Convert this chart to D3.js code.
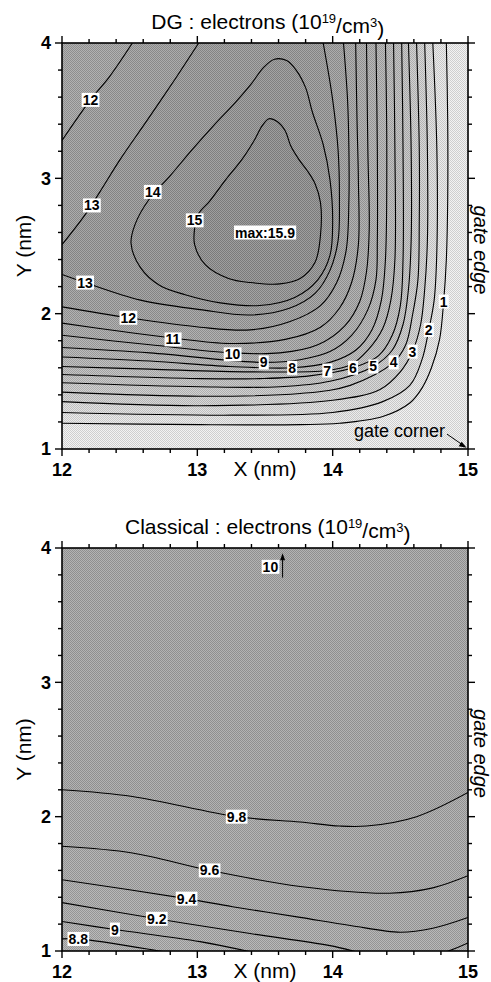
<!DOCTYPE html>
<html lang="en">
<head>
<meta charset="utf-8">
<title>DG and classical electron density</title>
<script src="https://cdn.jsdelivr.net/npm/d3@7"></script>
<style>
  body { margin: 0; background: #fff; }
  text { font-family: "Liberation Sans", Arial, sans-serif; }
</style>
</head>
<body>
<script>
// tick labels
var xTicks = [12, 13, 14, 15];
var yTicks = [1, 2, 3, 4];

// DG panel: open contours running from the left edge round the corner to the top (nm)
var dgLevels = [1, 2, 3, 4, 5, 6, 7, 8, 9, 10, 11, 12, 13];
var dgLines = [
  [[12,1.19],[13.02,1.18],[13.76,1.18],[14.05,1.19],[14.37,1.24],[14.57,1.34],[14.66,1.45],[14.73,1.60],[14.79,1.81],[14.82,2.09],[14.84,2.40],[14.85,2.84],[14.85,3.43],[14.84,4]],
  [[12,1.27],[13.26,1.25],[14.0,1.27],[14.37,1.35],[14.57,1.47],[14.66,1.66],[14.71,1.88],[14.75,2.10],[14.77,2.47],[14.77,3.21],[14.74,4]],
  [[12,1.35],[13.02,1.32],[14.0,1.36],[14.35,1.44],[14.50,1.57],[14.59,1.72],[14.65,1.92],[14.68,2.18],[14.70,2.54],[14.70,3.21],[14.68,4]],
  [[12,1.42],[13.02,1.39],[13.76,1.41],[14.13,1.47],[14.45,1.64],[14.54,1.77],[14.59,1.99],[14.63,2.25],[14.64,2.69],[14.64,3.21],[14.62,4]],
  [[12,1.49],[13.02,1.46],[13.61,1.46],[13.98,1.50],[14.30,1.61],[14.44,1.73],[14.52,1.92],[14.56,2.18],[14.58,2.54],[14.58,3.21],[14.56,4]],
  [[12,1.55],[13.02,1.52],[13.46,1.52],[13.83,1.54],[14.15,1.60],[14.34,1.69],[14.44,1.84],[14.50,2.06],[14.52,2.40],[14.52,3.21],[14.51,4]],
  [[12,1.61],[12.65,1.59],[13.39,1.57],[13.96,1.58],[14.13,1.62],[14.26,1.73],[14.37,1.89],[14.43,2.10],[14.46,2.40],[14.46,3.21],[14.45,4]],
  [[12,1.68],[12.65,1.65],[13.24,1.61],[13.70,1.60],[13.98,1.64],[14.17,1.73],[14.29,1.88],[14.36,2.10],[14.39,2.40],[14.40,3.21],[14.39,4]],
  [[12,1.75],[12.65,1.71],[13.49,1.64],[13.76,1.66],[13.98,1.72],[14.14,1.84],[14.26,2.03],[14.32,2.25],[14.33,2.54],[14.33,3.21],[14.32,4]],
  [[12,1.84],[12.65,1.77],[13.26,1.71],[13.61,1.71],[13.89,1.77],[14.09,1.91],[14.20,2.09],[14.25,2.31],[14.27,2.62],[14.26,3.21],[14.25,4]],
  [[12,1.93],[12.43,1.87],[12.82,1.82],[13.24,1.78],[13.65,1.81],[13.91,1.90],[14.05,2.04],[14.14,2.23],[14.19,2.51],[14.19,2.99],[14.18,3.43],[14.17,4]],
  [[12,2.05],[12.49,1.97],[13.02,1.90],[13.39,1.88],[13.68,1.94],[13.91,2.06],[14.03,2.23],[14.10,2.47],[14.12,2.84],[14.12,3.21],[14.11,3.58],[14.08,4]],
  [[12,2.29],[12.17,2.23],[12.58,2.10],[13.02,2.03],[13.39,1.99],[13.68,2.04],[13.87,2.15],[13.98,2.32],[14.04,2.54],[14.05,2.84],[14.04,3.21],[14.00,3.58],[13.93,4]]
];
var dgLabelPos = [[14.82,2.09],[14.71,1.88],[14.59,1.72],[14.45,1.64],[14.30,1.61],[14.15,1.60],
                  [13.96,1.58],[13.70,1.60],[13.49,1.64],[13.26,1.70],[12.82,1.81],[12.49,1.97],[12.17,2.23]];

// DG panel: the low valley in the upper left corner
var dgValleyLevels = [13, 12];
var dgValleyLines = [
  [[12,2.51],[12.17,2.73],[12.28,2.90],[12.43,3.14],[12.63,3.43],[12.84,3.74],[13.01,4]],
  [[12,3.28],[12.21,3.58],[12.35,3.75],[12.52,4]]
];
var dgValleyLabelPos = [[12.22,2.80],[12.21,3.58]];

// DG panel: closed loops round the maximum
var dgLoopLevels = [14, 15];
var dgLoops = [
  [[13.49,3.82],[13.57,3.88],[13.66,3.87],[13.73,3.80],[13.80,3.67],[13.85,3.49],[13.93,3.25],
   [13.98,2.99],[14.00,2.69],[13.98,2.43],[13.89,2.25],[13.72,2.12],[13.46,2.06],[13.17,2.08],[12.91,2.14],
   [12.72,2.21],[12.58,2.34],[12.51,2.52],[12.54,2.66],[12.64,2.84],[12.80,3.02],[12.96,3.21],[13.12,3.39],
   [13.28,3.56],[13.40,3.70]],
  [[13.48,3.39],[13.53,3.44],[13.59,3.42],[13.65,3.35],[13.69,3.24],[13.75,3.14],[13.81,3.06],[13.87,2.96],
   [13.91,2.82],[13.91,2.58],[13.87,2.38],[13.76,2.26],[13.61,2.22],[13.39,2.23],[13.23,2.26],[13.06,2.36],
   [12.98,2.51],[12.98,2.63],[13.01,2.74],[13.09,2.83],[13.21,2.99],[13.33,3.14],[13.42,3.28]]
];
var dgLoopLabelPos = [[12.67,2.90],[12.98,2.69]];
var dgMaxPos = [13.50, 2.60];
var dgMaxText = "max:15.9";

// Classical panel contours, left edge to right edge (nm)
var clLevels = [8.8, 9, 9.2, 9.4, 9.6, 9.8];
var clLabels = ["8.8", "9", "9.2", "9.4", "9.6", "9.8"];
var clLines = [
  [[12,1.09],[12.12,1.09],[12.72,1.0],[13.0,0.95]],
  [[12,1.22],[12.39,1.16],[13.02,1.07],[13.5,0.97],[14.0,0.85]],
  [[12,1.36],[12.70,1.24],[13.39,1.13],[13.98,1.04],[14.35,0.96],[14.75,0.97],[15,1.06]],
  [[12,1.53],[12.92,1.39],[13.26,1.33],[13.76,1.25],[14.13,1.19],[14.50,1.14],[14.74,1.17],[15,1.25]],
  [[12,1.78],[12.52,1.73],[13.09,1.60],[13.76,1.48],[14.42,1.43],[14.74,1.47],[15,1.56]],
  [[12,2.20],[12.52,2.15],[13.29,2.00],[13.76,1.96],[14.05,1.93],[14.25,1.93],[14.62,2.00],[15,2.18]]
];
var clLabelPos = [[12.12,1.09],[12.39,1.16],[12.70,1.24],[12.92,1.39],[13.09,1.60],[13.29,2.00]];
var clTopLabelPos = [13.54, 3.86];
var clTopArrow = [[13.63,3.78],[13.63,3.96]];

var W = 491, H = 982;
var svg = d3.select("body").append("svg").attr("width", W).attr("height", H);

// halftone-like dither laid over the shaded fields
var defs = svg.append("defs");
var pat = defs.append("pattern").attr("id", "dither")
  .attr("width", 2).attr("height", 2).attr("patternUnits", "userSpaceOnUse");
pat.append("rect").attr("width", 1).attr("height", 1).attr("fill", "#000").attr("fill-opacity", 0.14);
pat.append("rect").attr("x", 1).attr("y", 1).attr("width", 1).attr("height", 1).attr("fill", "#000").attr("fill-opacity", 0.14);
pat.append("rect").attr("x", 1).attr("width", 1).attr("height", 1).attr("fill", "#fff").attr("fill-opacity", 0.14);
pat.append("rect").attr("y", 1).attr("width", 1).attr("height", 1).attr("fill", "#fff").attr("fill-opacity", 0.14);

var x = d3.scaleLinear().domain([12, 15]).range([62, 468]);
var yTop = d3.scaleLinear().domain([1, 4]).range([449, 43]);
var yBot = d3.scaleLinear().domain([1, 4]).range([951, 548]);

var dgGray = d3.scaleLinear()
  .domain([0, 1, 2, 3, 5, 8, 11, 13, 15])
  .range(["#f4f4f4", "#e9e9e9", "#dedede", "#d2d2d2", "#c3c3c3", "#b2b2b2", "#a5a5a5", "#9a9a9a", "#8f8f8f"]);
var clGray = d3.scaleLinear().domain([8.6, 10]).range(["#b0b0b0", "#a6a6a6"]);

// outside points so a contour can be closed into a filled region
var farTL = [11.5, 4.5];
var farRight = [[15.5, 0.3], [15.5, 4.5], [11.5, 4.5]];

function makePanel(id, y) {
  var g = svg.append("g");
  g.append("clipPath").attr("id", id).append("rect")
    .attr("x", x(12)).attr("y", y(4))
    .attr("width", x(15) - x(12)).attr("height", y(1) - y(4));
  var plot = g.append("g").attr("clip-path", "url(#" + id + ")");
  var lineOpen = d3.line().x(function(d) { return x(d[0]); }).y(function(d) { return y(d[1]); })
    .curve(d3.curveCatmullRom.alpha(0.5));
  var lineClosed = d3.line().x(function(d) { return x(d[0]); }).y(function(d) { return y(d[1]); })
    .curve(d3.curveCatmullRomClosed.alpha(0.5));
  return { g: g, plot: plot, y: y, lineOpen: lineOpen, lineClosed: lineClosed };
}

function extend(path, pts, y) {
  return path + pts.map(function(p) { return "L" + x(p[0]) + "," + y(p[1]); }).join("") + "Z";
}

function dither(p) {
  p.plot.append("rect").attr("x", x(12)).attr("y", p.y(4))
    .attr("width", x(15) - x(12)).attr("height", p.y(1) - p.y(4))
    .attr("fill", "url(#dither)");
}

function label(p, pos, txt) {
  var t = p.g.append("text")
    .attr("x", x(pos[0])).attr("y", p.y(pos[1]))
    .attr("text-anchor", "middle").attr("dy", "0.36em")
    .style("font-size", "14px").style("font-weight", "bold")
    .text(txt);
  var b = t.node().getBBox();
  p.g.insert("rect", function() { return t.node(); })
    .attr("x", b.x - 1).attr("y", b.y + 1)
    .attr("width", b.width + 2).attr("height", b.height - 2)
    .attr("fill", "#fff");
  return t;
}

function frame(p, title) {
  var y = p.y, g = p.g;
  var minorX = x.ticks(15).filter(function(v) { return Math.abs(v - Math.round(v)) > 1e-6; });
  var minorY = y.ticks(15).filter(function(v) { return Math.abs(v - Math.round(v)) > 1e-6; });

  g.append("rect")
    .attr("x", x(12)).attr("y", y(4))
    .attr("width", x(15) - x(12)).attr("height", y(1) - y(4))
    .attr("fill", "none").attr("stroke", "#000").attr("stroke-width", 1.6);

  var ticks = g.append("g").attr("stroke", "#000").attr("stroke-width", 1.4);
  [[minorX, 4], [xTicks, 7]].forEach(function(s) {
    s[0].forEach(function(v) {
      ticks.append("line").attr("x1", x(v)).attr("x2", x(v)).attr("y1", y(4)).attr("y2", y(4) - s[1]);
      ticks.append("line").attr("x1", x(v)).attr("x2", x(v)).attr("y1", y(1)).attr("y2", y(1) + s[1]);
    });
  });
  [[minorY, 4], [yTicks, 7]].forEach(function(s) {
    s[0].forEach(function(v) {
      ticks.append("line").attr("y1", y(v)).attr("y2", y(v)).attr("x1", x(12)).attr("x2", x(12) - s[1]);
      ticks.append("line").attr("y1", y(v)).attr("y2", y(v)).attr("x1", x(15)).attr("x2", x(15) + s[1]);
    });
  });

  g.selectAll(null).data(xTicks).enter().append("text")
    .attr("x", function(d) { return x(d); }).attr("y", y(1) + 27)
    .attr("text-anchor", "middle")
    .style("font-size", "18px").style("font-weight", "bold")
    .text(function(d) { return d; });
  g.selectAll(null).data(yTicks).enter().append("text")
    .attr("x", x(12) - 11).attr("y", function(d) { return y(d); })
    .attr("dy", "0.36em").attr("text-anchor", "end")
    .style("font-size", "18px").style("font-weight", "bold")
    .text(function(d) { return d; });

  g.append("text").attr("x", x(13.5)).attr("y", y(1) + 27)
    .attr("text-anchor", "middle").style("font-size", "21px").text("X (nm)");
  g.append("text")
    .attr("transform", "translate(31," + y(2.5) + ") rotate(-90)")
    .attr("text-anchor", "middle").style("font-size", "21px").text("Y (nm)");
  g.append("text")
    .attr("transform", "translate(474," + (y(2.5) + 4) + ") rotate(90)")
    .attr("text-anchor", "middle").style("font-size", "20px").style("font-style", "italic")
    .text("gate edge");

  var tt = g.append("text").attr("x", x(13.52)).attr("y", y(4) - 14)
    .attr("text-anchor", "middle").style("font-size", "21px");
  tt.append("tspan").text(title + " : electrons (10");
  tt.append("tspan").attr("dy", "-0.45em").style("font-size", "13px").text("19");
  tt.append("tspan").attr("dy", "0.45em").text("/cm");
  tt.append("tspan").attr("dy", "-0.45em").style("font-size", "13px").text("3");
  tt.append("tspan").attr("dy", "0.45em").text(")");
}

// ---------- DG panel ----------
var dg = makePanel("clipTop", yTop);
dg.plot.append("rect").attr("x", x(12)).attr("y", yTop(4))
  .attr("width", x(15) - x(12)).attr("height", yTop(1) - yTop(4)).attr("fill", dgGray(0.3));

dgLines.forEach(function(pts, i) {
  dg.plot.append("path").attr("d", extend(dg.lineOpen(pts), [farTL], yTop)).attr("fill", dgGray(dgLevels[i]));
});
dgValleyLines.forEach(function(pts, i) {
  dg.plot.append("path").attr("d", extend(dg.lineOpen(pts), [farTL], yTop)).attr("fill", dgGray(dgValleyLevels[i] - 1));
});
dgLoops.forEach(function(pts, i) {
  dg.plot.append("path").attr("d", dg.lineClosed(pts)).attr("fill", dgGray(dgLoopLevels[i]));
});
dither(dg);

var dgStroke = dg.plot.append("g").attr("fill", "none").attr("stroke", "#000").attr("stroke-width", 1.1);
dgLines.concat(dgValleyLines).forEach(function(pts) {
  dgStroke.append("path").attr("d", dg.lineOpen(pts));
});
dgLoops.forEach(function(pts) {
  dgStroke.append("path").attr("d", dg.lineClosed(pts));
});

dgLines.forEach(function(pts, i) { label(dg, dgLabelPos[i], dgLevels[i]); });
dgValleyLines.forEach(function(pts, i) { label(dg, dgValleyLabelPos[i], dgValleyLevels[i]); });
dgLoops.forEach(function(pts, i) { label(dg, dgLoopLabelPos[i], dgLoopLevels[i]); });
label(dg, dgMaxPos, dgMaxText);

// gate corner note with arrow
dg.g.append("text").attr("x", x(14.83)).attr("y", yTop(1.09))
  .attr("text-anchor", "end").style("font-size", "18px").text("gate corner");
dg.g.append("line")
  .attr("x1", x(14.845)).attr("y1", yTop(1.11)).attr("x2", x(14.975)).attr("y2", yTop(1.02))
  .attr("stroke", "#000").attr("stroke-width", 1);
dg.g.append("path")
  .attr("d", "M" + x(14.99) + "," + yTop(1.01) + "l-8,-1.5l3,-4.5Z").attr("fill", "#000");

frame(dg, "DG");

// ---------- Classical panel ----------
var cl = makePanel("clipBot", yBot);
cl.plot.append("rect").attr("x", x(12)).attr("y", yBot(4))
  .attr("width", x(15) - x(12)).attr("height", yBot(1) - yBot(4)).attr("fill", clGray(8.6));
clLines.forEach(function(pts, i) {
  cl.plot.append("path").attr("d", extend(cl.lineOpen(pts), farRight, yBot)).attr("fill", clGray(clLevels[i]));
});
dither(cl);
var clStroke = cl.plot.append("g").attr("fill", "none").attr("stroke", "#000").attr("stroke-width", 1.1);
clLines.forEach(function(pts) { clStroke.append("path").attr("d", cl.lineOpen(pts)); });
clLines.forEach(function(pts, i) { label(cl, clLabelPos[i], clLabels[i]); });

label(cl, clTopLabelPos, "10");
cl.g.append("line")
  .attr("x1", x(clTopArrow[0][0])).attr("y1", yBot(clTopArrow[0][1]))
  .attr("x2", x(clTopArrow[1][0])).attr("y2", yBot(clTopArrow[1][1]) + 5)
  .attr("stroke", "#000").attr("stroke-width", 1);
cl.g.append("path")
  .attr("d", "M" + x(clTopArrow[1][0]) + "," + yBot(clTopArrow[1][1]) + "l-2.5,7h5Z").attr("fill", "#000");

frame(cl, "Classical");
</script>
</body>
</html>
